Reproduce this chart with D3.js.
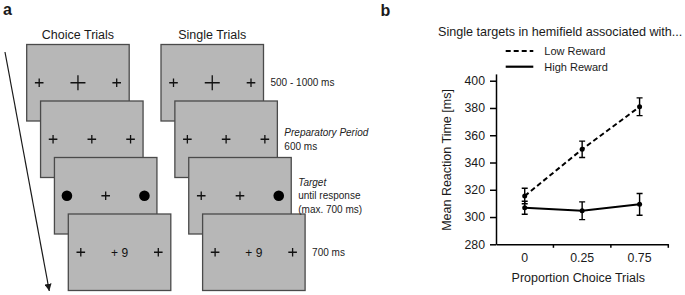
<!DOCTYPE html>
<html>
<head>
<meta charset="utf-8">
<script src="https://cdn.jsdelivr.net/npm/d3@7"></script>
<style>
  html, body { margin: 0; padding: 0; background: #fff; }
  svg { display: block; font-family: "Liberation Sans", Arial, sans-serif; }
</style>
</head>
<body>
<svg id="chart" width="685" height="295"></svg>
<script>
"use strict";

// panel a: trial sequence
const columns = ["Choice Trials", "Single Trials"];
const choiceScreens = [
  ["+", "big", "+"],
  ["+", "+", "+"],
  ["dot", "+", "dot"],
  ["+", "+ 9", "+"],
];
const singleScreens = [
  ["+", "big", "+"],
  ["+", "+", "+"],
  ["+", "+", "dot"],
  ["+", "+ 9", "+"],
];
const phaseLabels = [
  [{ t: "500 - 1000 ms", it: false }],
  [{ t: "Preparatory Period", it: true }, { t: "600 ms", it: false }],
  [{ t: "Target", it: true }, { t: "until response", it: false }, { t: "(max. 700 ms)", it: false }],
  [{ t: "700 ms", it: false }],
];

// panel b: reaction times
const proportions = ["0", "0.25", "0.75"];
const seriesNames = ["Low Reward", "High Reward"];
const lowReward = [315.4, 349.7, 380.9];
const lowRewardErr = [5.7, 6.0, 6.5];
const highReward = [306.8, 304.6, 309.3];
const highRewardErr = [4.8, 6.5, 8.0];
const yTicks = [280, 300, 320, 340, 360, 380, 400];

const ink = "#1a1a1a";
const svg = d3.select("#chart");

// ---------- panel a ----------
const a = svg.append("g");

a.append("text").attr("x", 3).attr("y", 15)
  .attr("font-size", 16).attr("font-weight", "bold").attr("fill", ink).text("a");

const colX = d3.scaleLinear().domain([0, 1]).range([0, 134.3]);
const scrX = d3.scaleLinear().domain([0, 3]).range([26.7, 68.3]);
const scrY = d3.scaleLinear().domain([0, 3]).range([44.5, 214]);
const scrW = 102.5, scrH = 76.5;
const stimX = d3.scalePoint().domain([0, 1, 2]).range([12.5, scrW - 12.5]);

// time arrow
a.append("defs").append("marker")
  .attr("id", "head").attr("viewBox", "0 0 10 10")
  .attr("refX", 10).attr("refY", 5)
  .attr("markerWidth", 6).attr("markerHeight", 6)
  .attr("orient", "auto")
  .append("path").attr("d", "M0,0 L10,5 L0,10 Z").attr("fill", ink);

a.append("line")
  .attr("x1", 5).attr("y1", 52).attr("x2", 49.3).attr("y2", 291)
  .attr("stroke", ink).attr("stroke-width", 1.2)
  .attr("marker-end", "url(#head)");

[choiceScreens, singleScreens].forEach((screens, c) => {
  a.append("text")
    .attr("x", colX(c) + scrX(0) + scrW / 2).attr("y", 38.5)
    .attr("text-anchor", "middle").attr("font-size", 12.5).attr("fill", ink)
    .text(columns[c]);

  const g = a.selectAll(null).data(screens).enter().append("g")
    .attr("transform", (d, i) => `translate(${colX(c) + scrX(i)},${scrY(i)})`);

  g.append("rect")
    .attr("width", scrW).attr("height", scrH)
    .attr("fill", "#b7b7b7").attr("stroke", "#4a4a4a").attr("stroke-width", 1.3);

  const s = g.selectAll("g.stim").data((d) => d).enter().append("g")
    .attr("class", "stim")
    .attr("transform", (d, j) => `translate(${stimX(j)},${scrH / 2})`);

  s.each(function (d) {
    const e = d3.select(this);
    if (d === "dot") {
      e.append("circle").attr("r", 5.3).attr("fill", "#000");
    } else if (d === "+" || d === "big") {
      const h = d === "big" ? 7.5 : 4.3;
      e.append("path").attr("d", `M${-h},0H${h}M0,${-h}V${h}`)
        .attr("stroke", "#111").attr("stroke-width", 1.3);
    } else {
      e.append("text").attr("y", 4.3).attr("text-anchor", "middle")
        .attr("font-size", 12).attr("fill", "#111").text(d);
    }
  });
});

// phase labels to the right of the single-trial screens
phaseLabels.forEach((lines, i) => {
  const x = colX(1) + scrX(i) + scrW + 7;
  const n = lines.length;
  const y0 = scrY(i) + scrH / 2 - (n - 1) * 13.5 / 2 + 3.5;
  a.append("g").selectAll("text").data(lines).enter().append("text")
    .attr("x", x)
    .attr("y", (d, k) => y0 + k * 13.5)
    .attr("font-size", 10).attr("fill", "#222")
    .attr("font-style", (d) => (d.it ? "italic" : "normal"))
    .text((d) => d.t);
});

// ---------- panel b ----------
const b = svg.append("g");
b.append("text").attr("x", 380.5).attr("y", 16)
  .attr("font-size", 16).attr("font-weight", "bold").attr("fill", ink).text("b");

b.append("text").attr("x", 560.2).attr("y", 36)
  .attr("text-anchor", "middle").attr("font-size", 12.6).attr("fill", ink)
  .text("Single targets in hemifield associated with...");

const x = d3.scaleBand().domain(proportions).range([496, 668.3]);
const y = d3.scaleLinear().domain([280, 405]).range([244.3, 73.9]);

// legend
const leg = b.append("g").selectAll("g").data(seriesNames).enter().append("g")
  .attr("transform", (d, i) => `translate(0,${51 + i * 15.7})`);
leg.append("line").attr("x1", 505.7).attr("x2", 533.3)
  .attr("stroke", "#000").attr("stroke-width", 2.2)
  .attr("stroke-dasharray", (d, i) => (i === 0 ? "5,3" : null));
leg.append("text").attr("x", 544.3).attr("y", 4)
  .attr("font-size", 11).attr("fill", ink).text((d) => d);

// axes
const yAxis = b.append("g").attr("transform", "translate(496,0)")
  .call(d3.axisLeft(y).tickValues(yTicks).tickSize(6).tickPadding(5).tickSizeOuter(0));
const xAxis = b.append("g").attr("transform", `translate(0,${y(280)})`)
  .call(d3.axisBottom(x).tickSize(0).tickPadding(9).tickSizeOuter(0));

[yAxis, xAxis].forEach((ax) => {
  ax.select(".domain").attr("stroke", "#000").attr("stroke-width", 1.5);
  ax.selectAll(".tick line").attr("stroke", "#000").attr("stroke-width", 1.5);
  ax.selectAll("text").attr("font-size", 12.3).attr("fill", ink)
    .attr("font-family", "Liberation Sans, Arial, sans-serif");
});

// x ticks at band edges
const edges = [1, 2, 3].map((k) => x.range()[0] + k * x.step());
xAxis.selectAll("line.edge").data(edges).enter().append("line")
  .attr("class", "edge")
  .attr("x1", (d) => d).attr("x2", (d) => d)
  .attr("y1", 0).attr("y2", 3.5)
  .attr("stroke", "#000").attr("stroke-width", 1.5);

b.append("text").attr("x", 578.3).attr("y", 281.5)
  .attr("text-anchor", "middle").attr("font-size", 12.5).attr("fill", ink)
  .text("Proportion Choice Trials");

b.append("text")
  .attr("transform", "translate(451,160) rotate(-90)")
  .attr("text-anchor", "middle").attr("font-size", 12.5).attr("fill", ink)
  .text("Mean Reaction Time [ms]");

// series
const cx = (d, i) => x(proportions[i]) + x.bandwidth() / 2;
const series = [
  { v: lowReward, e: lowRewardErr, dash: "5,3" },
  { v: highReward, e: highRewardErr, dash: null },
];

series.forEach((s) => {
  const g = b.append("g");
  g.append("path").datum(s.v)
    .attr("d", d3.line().x(cx).y((d) => y(d)))
    .attr("fill", "none").attr("stroke", "#000").attr("stroke-width", 2)
    .attr("stroke-dasharray", s.dash);

  const eb = g.selectAll("g").data(s.v).enter().append("g");
  eb.append("path")
    .attr("d", (d, i) => {
      const px = cx(d, i), t = y(d + s.e[i]), bt = y(d - s.e[i]);
      return `M${px},${t}V${bt}M${px - 3},${t}H${px + 3}M${px - 3},${bt}H${px + 3}`;
    })
    .attr("fill", "none").attr("stroke", "#000").attr("stroke-width", 1.4);
  eb.append("circle").attr("cx", cx).attr("cy", (d) => y(d))
    .attr("r", 2.5).attr("fill", "#000");
});
</script>
</body>
</html>
